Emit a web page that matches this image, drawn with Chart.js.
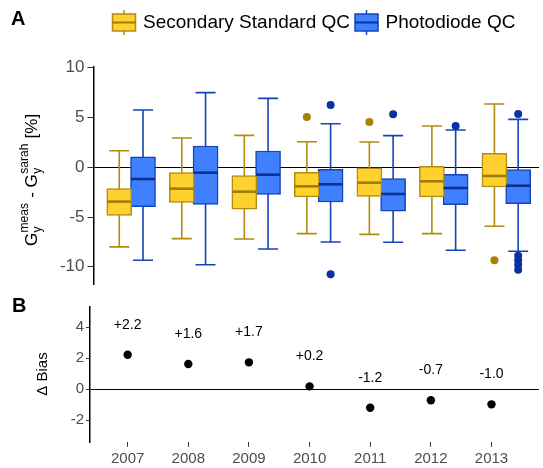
<!DOCTYPE html>
<html>
<head>
<meta charset="utf-8">
<script src="https://cdn.jsdelivr.net/npm/chart.js@4.4.1/dist/chart.umd.min.js"></script>
<style>
  html, body { margin: 0; padding: 0; background: #fff; }
  #wrap { position: relative; width: 543px; height: 468px; overflow: hidden; }
  canvas { position: absolute; left: 0; }
</style>
</head>
<body>
<div id="wrap">
  <canvas id="chartA" width="543" height="290" style="top:0"></canvas>
  <canvas id="chartB" width="543" height="178" style="top:290px"></canvas>
</div>
<script>
// years on the x axis
const years = [2007, 2008, 2009, 2010, 2011, 2012, 2013];

// Secondary Standard QC (box stats)
const ssLow  = [-8.0, -7.17, -7.2, -6.67, -6.74, -6.67, -5.93];
const ssQ1   = [-4.83, -3.52, -4.22, -2.98, -2.92, -2.98, -1.98];
const ssMed  = [-3.45, -2.15, -2.45, -1.91, -1.55, -1.41, -0.87];
const ssQ3   = [-2.15, -0.54, -0.84, -0.5, 0.0, 0.1, 1.41];
const ssHigh = [1.67, 2.94, 3.21, 2.57, 2.54, 4.15, 6.36];
const ssOutYear = [2010, 2011, 2013];
const ssOutVal  = [5.06, 4.55, -9.35];

// Photodiode QC (box stats)
const pdLow  = [-9.35, -9.79, -8.21, -7.51, -7.54, -8.34, -8.44];
const pdQ1   = [-3.96, -3.72, -2.72, -3.49, -4.42, -3.76, -3.66];
const pdMed  = [-1.18, -0.54, -0.74, -1.71, -2.68, -2.08, -1.85];
const pdQ3   = [1.04, 2.14, 1.64, -0.2, -1.14, -0.7, -0.24];
const pdHigh = [5.76, 7.5, 6.93, 4.38, 3.18, 3.75, 4.82];
const pdOutYear = [2010, 2010, 2011, 2012, 2013, 2013, 2013, 2013, 2013];
const pdOutVal  = [6.26, -10.76, 5.33, 4.15, 5.36, -8.9, -9.35, -9.8, -10.3];

// panel B
const deltaBias = [2.23, 1.63, 1.74, 0.19, -1.19, -0.71, -0.97];

const yTicksA = [-10, -5, 0, 5, 10];
const yTicksB = [-2, 0, 2, 4];

const FONT = "'Liberation Sans', Arial, Helvetica, sans-serif";
const yellow = { fill: '#ffd12e', line: '#b08c10', med: '#a07d08', dot: '#a88200' };
const blue   = { fill: '#3f80ff', line: '#1444b8', med: '#0a3296', dot: '#0833a0' };
const dodge = 0.19;

const boxes = [
  { name: 'Secondary Standard QC', col: yellow, off: -dodge, low: ssLow, q1: ssQ1, med: ssMed, q3: ssQ3, high: ssHigh },
  { name: 'Photodiode QC', col: blue, off: dodge, low: pdLow, q1: pdQ1, med: pdMed, q3: pdQ3, high: pdHigh }
];

// no label overhang padding, the layout padding does that
function fixPad(s) {
  s.paddingTop = 0; s.paddingBottom = 0;
  s.paddingLeft = 0; s.paddingRight = 0;
}

// whiskers under the boxes, medians on top
const whiskerPlugin = {
  id: 'whiskers',
  beforeDatasetsDraw(chart) {
    const { ctx, scales: { x, y } } = chart;
    ctx.save();
    ctx.lineWidth = 1.6;
    boxes.forEach(b => {
      ctx.strokeStyle = b.col.line;
      years.forEach((yr, i) => {
        const px = x.getPixelForValue(yr + b.off);
        ctx.beginPath();
        ctx.moveTo(px, y.getPixelForValue(b.high[i]));
        ctx.lineTo(px, y.getPixelForValue(b.low[i]));
        [b.high[i], b.low[i]].forEach(v => {
          const py = y.getPixelForValue(v);
          ctx.moveTo(px - 10, py);
          ctx.lineTo(px + 10, py);
        });
        ctx.stroke();
      });
    });
    ctx.restore();
  },
  afterDatasetsDraw(chart) {
    const { ctx, scales: { x, y } } = chart;
    ctx.save();
    ctx.lineWidth = 2.6;
    boxes.forEach(b => {
      ctx.strokeStyle = b.col.med;
      years.forEach((yr, i) => {
        const px = x.getPixelForValue(yr + b.off);
        const py = y.getPixelForValue(b.med[i]);
        ctx.beginPath();
        ctx.moveTo(px - 12, py);
        ctx.lineTo(px + 12, py);
        ctx.stroke();
      });
    });
    ctx.restore();
  }
};

function legendKey(ctx, x, col) {
  ctx.save();
  ctx.strokeStyle = col.line;
  ctx.lineWidth = 1.5;
  ctx.beginPath();
  ctx.moveTo(x + 11.5, 10); ctx.lineTo(x + 11.5, 35);
  ctx.stroke();
  ctx.fillStyle = col.fill;
  ctx.fillRect(x, 14, 23, 17);
  ctx.strokeRect(x, 14, 23, 17);
  ctx.strokeStyle = col.med;
  ctx.lineWidth = 2;
  ctx.beginPath();
  ctx.moveTo(x, 22.5); ctx.lineTo(x + 23, 22.5);
  ctx.stroke();
  ctx.restore();
}

const panelAPlugin = {
  id: 'panelA',
  afterDraw(chart) {
    const ctx = chart.ctx;
    ctx.save();
    ctx.fillStyle = '#000';
    ctx.font = 'bold 20px ' + FONT;
    ctx.textBaseline = 'alphabetic';
    ctx.fillText('A', 11, 25);

    // legend
    ctx.textBaseline = 'middle';
    let lx = 112.5;
    boxes.forEach(b => {
      legendKey(ctx, lx, b.col);
      ctx.fillStyle = '#000';
      ctx.font = '19px ' + FONT;
      ctx.fillText(b.name, lx + 30.5, 23);
      lx = lx + 30.5 + ctx.measureText(b.name).width + 5;
    });

    // y title with sub / superscripts
    const big = '17px ' + FONT, small = '12px ' + FONT;
    const parts = [
      { t: 'G', f: big },
      { sub: 'y', sup: 'meas' },
      { t: ' - ', f: big },
      { t: 'G', f: big },
      { sub: 'y', sup: 'sarah' },
      { t: ' [%]', f: big }
    ];
    const wOf = p => {
      if (p.t) { ctx.font = p.f; return ctx.measureText(p.t).width; }
      ctx.font = small;
      return Math.max(ctx.measureText(p.sub).width, ctx.measureText(p.sup).width) + 1;
    };
    const total = parts.reduce((s, p) => s + wOf(p), 0);
    ctx.translate(37, 180);
    ctx.rotate(-Math.PI / 2);
    ctx.textBaseline = 'alphabetic';
    ctx.textAlign = 'left';
    let tx = -total / 2;
    parts.forEach(p => {
      const w = wOf(p);
      if (p.t) {
        ctx.font = p.f;
        ctx.fillText(p.t, tx, 0);
      } else {
        ctx.font = small;
        ctx.fillText(p.sub, tx + 0.5, 4);
        ctx.fillText(p.sup, tx + 0.5, -9);
      }
      tx += w;
    });
    ctx.restore();
  }
};

new Chart(document.getElementById('chartA'), {
  type: 'bar',
  data: {
    datasets: [
      ...boxes.map(b => ({
        type: 'bar',
        label: b.name,
        data: years.map((yr, i) => ({ x: yr + b.off, y: [b.q1[i], b.q3[i]] })),
        backgroundColor: b.col.fill,
        borderColor: b.col.line,
        borderWidth: 1.5,
        borderSkipped: false,
        barThickness: 25,
        grouped: false
      })),
      {
        type: 'scatter',
        data: ssOutYear.map((yr, i) => ({ x: yr - dodge, y: ssOutVal[i] })),
        backgroundColor: yellow.dot,
        borderWidth: 0,
        pointRadius: 4
      },
      {
        type: 'scatter',
        data: pdOutYear.map((yr, i) => ({ x: yr + dodge, y: pdOutVal[i] })),
        backgroundColor: blue.dot,
        borderWidth: 0,
        pointRadius: 4
      }
    ]
  },
  options: {
    responsive: false,
    animation: false,
    devicePixelRatio: 1,
    layout: { padding: { top: 66.8, bottom: 5.3, left: 0, right: 0 } },
    plugins: { legend: { display: false }, tooltip: { enabled: false } },
    scales: {
      x: { type: 'linear', display: false, offset: false, min: 2006.398, max: 2013.523, grid: { offset: false } },
      y: {
        min: -11.8, max: 10.1,
        afterFit(s) { s.width = 93.5; fixPad(s); },
        afterBuildTicks(s) { s.ticks = yTicksA.map(v => ({ value: v })); },
        border: { color: '#000', width: 1.5 },
        grid: {
          color: c => (c.tick && c.tick.value === 0 ? '#000' : 'rgba(0,0,0,0)'),
          lineWidth: 1, tickColor: '#333', tickLength: 6
        },
        ticks: { font: { family: FONT, size: 17 }, color: '#4d4d4d', padding: 3 }
      }
    }
  },
  plugins: [whiskerPlugin, panelAPlugin]
});

const panelBPlugin = {
  id: 'panelB',
  afterDatasetsDraw(chart) {
    const { ctx, scales: { x, y } } = chart;
    ctx.save();
    ctx.fillStyle = '#000';
    ctx.font = '14px ' + FONT;
    ctx.textAlign = 'center';
    ctx.textBaseline = 'middle';
    deltaBias.forEach((v, i) => {
      const lbl = (v > 0 ? '+' : '') + v.toFixed(1);
      ctx.fillText(lbl, x.getPixelForValue(years[i]), y.getPixelForValue(v) - 30);
    });
    ctx.restore();
  },
  afterDraw(chart) {
    const ctx = chart.ctx;
    ctx.save();
    ctx.fillStyle = '#000';
    ctx.font = 'bold 20px ' + FONT;
    ctx.fillText('B', 12, 22);
    ctx.font = '15px ' + FONT;
    ctx.textAlign = 'center';
    ctx.translate(47, 84);
    ctx.rotate(-Math.PI / 2);
    ctx.fillText('\u0394 Bias', 0, 0);
    ctx.restore();
  }
};

new Chart(document.getElementById('chartB'), {
  type: 'scatter',
  data: {
    datasets: [{
      data: years.map((yr, i) => ({ x: yr, y: deltaBias[i] })),
      backgroundColor: '#000',
      borderWidth: 0,
      pointRadius: 4.2
    }]
  },
  options: {
    responsive: false,
    animation: false,
    devicePixelRatio: 1,
    layout: { padding: { top: 16.7, bottom: 0, left: 0, right: 0 } },
    plugins: { legend: { display: false }, tooltip: { enabled: false } },
    scales: {
      x: {
        type: 'linear', min: 2006.379, max: 2013.78,
        afterFit(s) { s.height = 25.7; fixPad(s); },
        afterBuildTicks(s) { s.ticks = years.map(v => ({ value: v })); },
        border: { display: false },
        grid: { drawOnChartArea: false, drawTicks: true, tickLength: 4.5, color: '#333' },
        ticks: {
          callback: (v, i) => String(years[i]),
          font: { family: FONT, size: 15 }, color: '#4d4d4d', padding: 3,
          maxRotation: 0, autoSkip: false
        }
      },
      y: {
        min: -3.42, max: 5.33,
        afterFit(s) { s.width = 90; fixPad(s); },
        afterBuildTicks(s) { s.ticks = yTicksB.map(v => ({ value: v })); },
        border: { color: '#000', width: 1.5 },
        grid: {
          color: c => (c.tick && c.tick.value === 0 ? '#000' : 'rgba(0,0,0,0)'),
          lineWidth: 1, tickColor: '#333', tickLength: 4
        },
        ticks: { font: { family: FONT, size: 15 }, color: '#4d4d4d', padding: 2 }
      }
    }
  },
  plugins: [panelBPlugin]
});
</script>
</body>
</html>
